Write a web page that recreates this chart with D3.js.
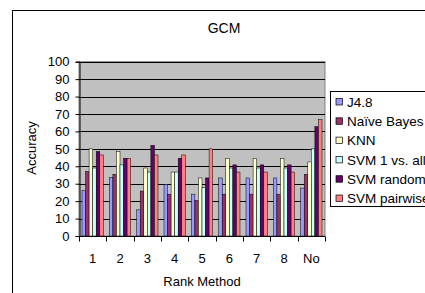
<!DOCTYPE html>
<html>
<head>
<meta charset="utf-8">
<script src="https://cdn.jsdelivr.net/npm/d3@7"></script>
<style>
  body { margin: 0; background: #fff; }
  text { font-family: Arial, "Liberation Sans", sans-serif; fill: #000; }
</style>
</head>
<body>
<svg id="chart" width="425" height="293"></svg>
<script>
// Data
const categories = ["1", "2", "3", "4", "5", "6", "7", "8", "No"];
const seriesNames = ["J4.8", "Naïve Bayes", "KNN", "SVM 1 vs. all", "SVM random", "SVM pairwise"];
const seriesColors = ["#9999ff", "#993366", "#ffffcc", "#ccffff", "#660066", "#ff8080"];
const j48 = [26, 33.5, 15, 29.6, 24, 33.3, 33.3, 33.3, 27.5];
const naiveBayes = [37, 35.4, 25.8, 24, 20.4, 24, 24, 24, 35.4];
const knn = [50, 48.5, 39, 36.7, 33.3, 44.6, 44.6, 44.6, 42.5];
const svmOneVsAll = [39, 40.8, 36.7, 36.7, 27.7, 39, 39, 39, 50];
const svmRandom = [48.5, 44.6, 52, 44.6, 33.3, 40.8, 40.8, 40.8, 62.7];
const svmPairwise = [46.5, 44.6, 46.5, 46.5, 50, 36.7, 36.7, 36.7, 66.7];
const yTicks = [0, 10, 20, 30, 40, 50, 60, 70, 80, 90, 100];

const seriesValues = [j48, naiveBayes, knn, svmOneVsAll, svmRandom, svmPairwise];

// plot area
const plot = { left: 79, right: 325, top: 61.7, bottom: 236 };

const svg = d3.select("#chart");

// outer chart frame (runs off the right and bottom edge)
svg.append("rect")
  .attr("x", 12.5).attr("y", 10.5)
  .attr("width", 430).attr("height", 300)
  .attr("fill", "#fff").attr("stroke", "#000").attr("stroke-width", 1);

const x0 = d3.scaleBand()
  .domain(categories)
  .range([plot.left, plot.right])
  .paddingInner(0.22)
  .paddingOuter(0.11);

const x1 = d3.scaleBand()
  .domain(d3.range(seriesNames.length))
  .range([0, x0.bandwidth()]);

const y = d3.scaleLinear().domain([0, 100]).range([plot.bottom, plot.top]);

// plot background
svg.append("rect")
  .attr("x", plot.left).attr("y", plot.top)
  .attr("width", plot.right - plot.left).attr("height", plot.bottom - plot.top)
  .attr("fill", "#c0c0c0").attr("stroke", "#808080").attr("stroke-width", 1);

// gridlines
svg.append("g")
  .selectAll("line")
  .data(yTicks.filter((d) => d > 0))
  .join("line")
  .attr("x1", plot.left).attr("x2", plot.right)
  .attr("y1", (d) => Math.round(y(d)) + 0.5)
  .attr("y2", (d) => Math.round(y(d)) + 0.5)
  .attr("stroke", "#000").attr("stroke-width", 1);

// bars
const groups = svg.append("g")
  .selectAll("g")
  .data(categories)
  .join("g")
  .attr("transform", (d) => `translate(${x0(d)},0)`);

groups.selectAll("rect")
  .data((d, i) => seriesValues.map((vals, s) => ({ s: s, v: vals[i] })))
  .join("rect")
  .attr("x", (d) => x1(d.s))
  .attr("y", (d) => y(d.v))
  .attr("width", x1.bandwidth())
  .attr("height", (d) => y(0) - y(d.v))
  .attr("fill", (d) => seriesColors[d.s])
  .attr("stroke", "#000")
  .attr("stroke-width", 0.5);

// y axis
const yAxis = svg.append("g")
  .attr("transform", `translate(${plot.left + 0.5},0)`)
  .call(d3.axisLeft(y).tickValues(yTicks).tickSize(4).tickPadding(6));
yAxis.selectAll("text").style("font-size", "13px");
yAxis.selectAll("line, path").attr("stroke", "#000");

// x axis with ticks between categories
const xAxis = svg.append("g")
  .attr("transform", `translate(0,${Math.round(y(0)) + 0.5})`);
xAxis.append("line")
  .attr("x1", plot.left).attr("x2", plot.right)
  .attr("stroke", "#000");
const step = x0.step();
xAxis.selectAll(".sep")
  .data(d3.range(categories.length + 1))
  .join("line")
  .attr("class", "sep")
  .attr("x1", (i) => Math.round(plot.left + i * step) + 0.5)
  .attr("x2", (i) => Math.round(plot.left + i * step) + 0.5)
  .attr("y1", 0).attr("y2", 5)
  .attr("stroke", "#000");
xAxis.selectAll(".lab")
  .data(categories)
  .join("text")
  .attr("class", "lab")
  .attr("x", (d) => x0(d) + x0.bandwidth() / 2)
  .attr("y", 26)
  .attr("text-anchor", "middle")
  .style("font-size", "13px")
  .text((d) => d);

// titles
svg.append("text")
  .attr("x", 224).attr("y", 33)
  .attr("text-anchor", "middle")
  .style("font-size", "14px")
  .text("GCM");

svg.append("text")
  .attr("x", 202).attr("y", 286)
  .attr("text-anchor", "middle")
  .style("font-size", "13px")
  .text("Rank Method");

svg.append("text")
  .attr("transform", "translate(36,148) rotate(-90)")
  .attr("text-anchor", "middle")
  .style("font-size", "13px")
  .text("Accuracy");

// legend
const legend = svg.append("g").attr("transform", "translate(330.5,91.5)");
legend.append("rect")
  .attr("width", 120).attr("height", 115)
  .attr("fill", "#fff").attr("stroke", "#000");
const item = legend.selectAll(".item")
  .data(seriesNames)
  .join("g")
  .attr("class", "item")
  .attr("transform", (d, i) => `translate(0,${10.5 + i * 19.3})`);
item.append("rect")
  .attr("x", 5.5).attr("y", -3.5)
  .attr("width", 6.5).attr("height", 6.5)
  .attr("fill", (d, i) => seriesColors[i])
  .attr("stroke", "#000").attr("stroke-width", 0.7);
item.append("text")
  .attr("x", 16.5).attr("y", 4.8)
  .style("font-size", "13.5px")
  .text((d) => d);
</script>
</body>
</html>
